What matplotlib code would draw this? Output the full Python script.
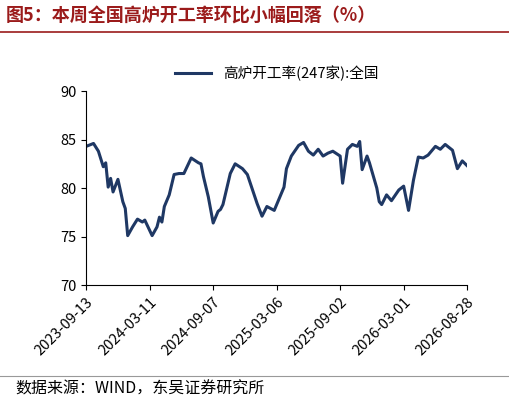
import numpy as np
import pandas as pd
import matplotlib
matplotlib.use('Agg')
import matplotlib.pyplot as plt

plt.rcParams['font.family'] = ['Noto Sans CJK SC', 'DejaVu Sans']

# weeks since 2023-09-13
weeks = [0, 3, 5, 7, 8, 9, 10, 11, 13, 15, 16, 17, 19, 21, 23, 24, 27, 29, 30, 31,
         32, 34, 36, 38, 40, 43, 46, 47, 48, 50, 52, 54, 55, 56, 59, 61, 64, 66, 70, 72,
         74, 77, 81, 82, 84, 87, 89, 91, 93, 95, 97, 99, 101, 104, 105, 107, 109, 111, 112, 113,
         115, 116, 119, 120, 121, 123, 125, 128, 130, 132, 134, 136, 138, 140, 143, 145, 147, 150, 152, 154,
         156]
rate = [84.3, 84.6, 83.8, 82.2, 82.6, 80.1, 81.0, 79.6, 80.9, 78.6, 77.9, 75.1, 76.0, 76.8, 76.5, 76.7, 75.1, 76.0, 77.0, 76.5,
        78.1, 79.3, 81.4, 81.5, 81.5, 83.1, 82.6, 82.5, 81.2, 79.1, 76.4, 77.6, 77.8, 78.3, 81.5, 82.5, 82.0, 81.4, 78.4, 77.1,
        78.1, 77.7, 80.1, 82.0, 83.3, 84.4, 84.7, 83.8, 83.4, 84.0, 83.3, 83.6, 83.8, 83.3, 80.5, 84.0, 84.5, 84.3, 84.8, 81.9,
        83.3, 82.6, 80.0, 78.6, 78.3, 79.3, 78.7, 79.8, 80.2, 77.7, 80.8, 83.2, 83.1, 83.4, 84.3, 84.0, 84.5, 83.9, 82.0, 82.8,
        82.3]
tick_labels = ['2023-09-13', '2024-03-11', '2024-09-07', '2025-03-06',
               '2025-09-02', '2026-03-01', '2026-08-28']

ticks = pd.to_datetime(tick_labels)
span_days = (ticks[-1] - ticks[0]).days
dates = ticks[0] + pd.to_timedelta(np.array(weeks) * span_days / 156, unit='D')

fig = plt.figure(figsize=(5.1, 4.12), dpi=100)
ax = fig.add_axes([0.169, 0.308, 0.747, 0.471])
ax.plot(dates, rate, color='#1F3864', lw=2.2, label='高炉开工率(247家):全国')
ax.set_ylim(70, 90)
ax.set_yticks([70, 75, 80, 85, 90])
ax.set_xlim(ticks[0], ticks[-1])
ax.set_xticks(ticks)
ax.set_xticklabels(tick_labels, rotation=45, ha='right', rotation_mode='anchor', fontsize=10.5)
ax.tick_params(axis='y', labelsize=10.5)
for s in ['top', 'right']:
    ax.spines[s].set_visible(False)
ax.legend(loc='upper center', bbox_to_anchor=(0.5, 1.2), frameon=False, fontsize=10.5,
          handlelength=2.5)

fig.text(0.012, 0.962, '图5：本周全国高炉开工率环比小幅回落（%）', color='#9B1B1B',
         fontsize=13, fontweight='bold', va='center')
fig.add_artist(plt.Line2D([0.0, 1.0], [0.922, 0.922], color='#9B1B1B', lw=1.2))
fig.text(0.03, 0.055, '数据来源：WIND，东吴证券研究所', fontsize=11.5, va='center')
fig.add_artist(plt.Line2D([0.0, 1.0], [0.088, 0.088], color='#999999', lw=0.8))

fig.savefig('out.png')
